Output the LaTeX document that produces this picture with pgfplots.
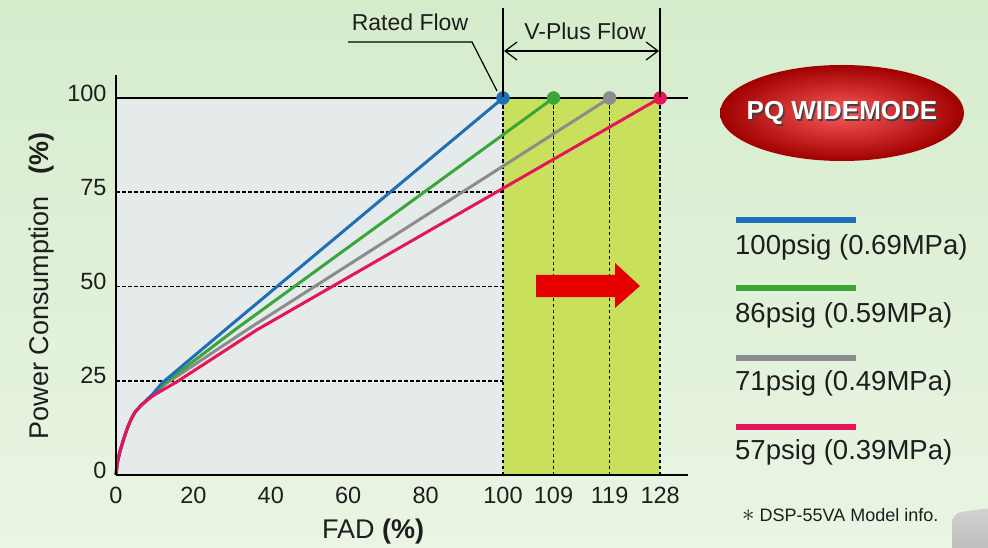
\documentclass[border=0pt]{standalone}
\usepackage{pgfplots}
\pgfplotsset{compat=1.18}
\usepackage{fontspec}
\setmainfont{Liberation Sans}
\usetikzlibrary{arrows.meta}
\definecolor{cblue}{RGB}{30,110,184}
\definecolor{cgreen}{RGB}{58,166,58}
\definecolor{cgray}{RGB}{140,140,140}
\definecolor{cpink}{RGB}{232,20,90}
\definecolor{leftbg}{RGB}{228,235,234}
\definecolor{greenbg}{RGB}{200,224,92}
\definecolor{bgtop}{RGB}{213,236,203}
\definecolor{bgbot}{RGB}{234,245,228}
\definecolor{txt}{RGB}{30,30,30}
\begin{document}
\begin{tikzpicture}[x=1pt,y=1pt]
\useasboundingbox (0,0) rectangle (988,547);
\shade[top color=bgtop, bottom color=bgbot] (0,0) rectangle (988,547);
% gray blob bottom right
\shade[top color=gray!35, bottom color=gray!55, rounded corners=10pt] (952,-12) -- (952,34) -- (1000,40) -- (1000,-12) -- cycle;
\begin{axis}[
  at={(116pt,72pt)}, anchor=south west,
  x=3.87pt, y=3.77pt,
  xmin=0, xmax=133, ymin=0, ymax=106,
  x coord trafo/.code={\pgfmathparse{(#1>100)?(100+1.45*(#1-100)):(#1)}},
  x coord inv trafo/.code={\pgfmathparse{(#1>100)?(100+(#1-100)/1.45):(#1)}},
  axis x line=bottom, axis y line=left,
  axis line style={-, line width=1.8pt, black},
  every outer x axis line/.append style={-},
  every outer y axis line/.append style={-},
  xtick={0,20,40,60,80,100,109,119,128},
  xticklabels={0,20,40,60,80,100,109,119,128},
  ytick={0,25,50,75,100},
  major tick length=0pt,
  tick label style={font=\fontsize{23.5}{25}\selectfont, text=txt},
  xticklabel style={yshift=-9pt},
  yticklabel style={yshift=5pt, xshift=-6pt},
  /pgf/number format/assume math mode=true,
  axis on top,
  clip=false,
]
% regions
\addplot[fill=leftbg, draw=none, forget plot] coordinates {(0,0) (100,0) (100,100) (0,100)} -- cycle;
\addplot[fill=greenbg, draw=none, forget plot] coordinates {(100,0) (128,0) (128,100) (100,100)} -- cycle;
% dashed guides
\addplot[black, line width=1.7pt, dash pattern=on 3.5pt off 2.5pt, forget plot] coordinates {(0,25) (100,25)};
\addplot[black, line width=1.7pt, dash pattern=on 3.5pt off 2.5pt, forget plot] coordinates {(0,50) (100,50)};
\addplot[black, line width=1.7pt, dash pattern=on 3.5pt off 2.5pt, forget plot] coordinates {(0,75) (100,75)};
\addplot[black, line width=1.7pt, dash pattern=on 3.5pt off 2.5pt, forget plot] coordinates {(100,0) (100,100)};
\addplot[black, line width=1.7pt, dash pattern=on 3.5pt off 2.5pt, forget plot] coordinates {(109,0) (109,100)};
\addplot[black, line width=1.7pt, dash pattern=on 3.5pt off 2.5pt, forget plot] coordinates {(119,0) (119,100)};
\addplot[black, line width=1.7pt, dash pattern=on 3.5pt off 2.5pt, forget plot] coordinates {(128,0) (128,100)};
% top line
\addplot[black, line width=1.8pt, forget plot] coordinates {(0,100) (133,100)};
% series
\addplot[cgray, line width=3pt, line join=round] coordinates {(0,0) (0.3,3) (1,6.2) (2,9.6) (3,12.6) (4,15) (5,16.8) (6.6,18.6) (9.5,21.2) (13,24.3) (33.8,38.5) (119,100)};
\addplot[cgreen, line width=3pt, line join=round] coordinates {(0,0) (0.3,3) (1,6.2) (2,9.6) (3,12.6) (4,15) (5,16.8) (6.6,18.6) (9.5,21.3) (12.5,24.3) (30.7,38.5) (109,100)};
\addplot[cblue, line width=3pt, line join=round] coordinates {(0,0) (0.3,3) (1,6.2) (2,9.6) (3,12.6) (4,15) (5,16.8) (6.6,18.6) (9.5,21.5) (12,24.5) (28.2,38.5) (100,100)};
\addplot[cpink, line width=3pt, line join=round] coordinates {(0,0) (0.3,3) (1,6.2) (2,9.6) (3,12.6) (4,15) (5,16.8) (6.6,18.6) (9.5,21) (15.7,24.7) (36.4,38.5) (128,100)};
% end markers
\addplot[only marks, mark=*, mark size=6.5pt, cblue] coordinates {(100,100)};
\addplot[only marks, mark=*, mark size=6.5pt, cgreen] coordinates {(109,100)};
\addplot[only marks, mark=*, mark size=6.5pt, cgray] coordinates {(119,100)};
\addplot[only marks, mark=*, mark size=6.5pt, cpink] coordinates {(128,100)};
\end{axis}
% axis labels
\node[text=txt, font=\fontsize{27}{30}\selectfont] at (373,15) {FAD \textbf{(\%)}};
\node[text=txt, font=\fontsize{27}{30}\selectfont, rotate=90] at (42,261) {Power Consumption\hspace{0.8em}\textbf{(\%)}};
% Rated flow annotation
\node[text=txt, font=\fontsize{23}{25}\selectfont] at (410,525) {Rated Flow};
\draw[black, line width=1.2pt] (348,505) -- (472,505) -- (497,456);
% V-Plus flow annotation
\draw[black, line width=1.2pt] (503,539) -- (503,450);
\draw[black, line width=1.2pt] (660,539) -- (660,450);
\draw[black, line width=1.2pt, {Straight Barb[length=12pt,width=18pt]}-{Straight Barb[length=12pt,width=18pt]}] (504,496) -- (659,496);
\node[text=txt, font=\fontsize{23}{25}\selectfont] at (585,516) {V-Plus Flow};
% red arrow
\fill[red!90!black] (536,272) -- (615,272) -- (615,284) -- (640,261) -- (615,239) -- (615,250) -- (536,250) -- cycle;
% PQ WIDEMODE ellipse
\shade[inner color={rgb,255:red,250;green,90;blue,90}, outer color={rgb,255:red,160;green,0;blue,0}] (842,434) ellipse [x radius=122, y radius=48];
\node[text=black!75, font=\bfseries\fontsize{26}{28}\selectfont] at (843.5,432.5) {PQ WIDEMODE};
\node[text=white, font=\bfseries\fontsize{26}{28}\selectfont] at (842,434) {PQ WIDEMODE};
% legend
\draw[cblue, line width=6pt] (736,327) -- (856,327);
\draw[cgreen, line width=6pt] (736,259) -- (856,259);
\draw[cgray, line width=6pt] (736,189) -- (856,189);
\draw[cpink, line width=6pt] (736,120) -- (856,120);
\node[anchor=west, inner sep=0pt, text=txt, font=\fontsize{27.5}{30}\selectfont] at (735,300) {100psig (0.69MPa)};
\node[anchor=west, inner sep=0pt, text=txt, font=\fontsize{27.5}{30}\selectfont] at (735,232) {86psig (0.59MPa)};
\node[anchor=west, inner sep=0pt, text=txt, font=\fontsize{27.5}{30}\selectfont] at (735,164) {71psig (0.49MPa)};
\node[anchor=west, inner sep=0pt, text=txt, font=\fontsize{27.5}{30}\selectfont] at (735,95) {57psig (0.39MPa)};
\node[anchor=west, inner sep=0pt, text=txt, font=\fontsize{18}{20}\selectfont] at (742,32) {{\fontsize{26}{26}\selectfont$\ast$} DSP-55VA Model info.};
\end{tikzpicture}
\end{document}
